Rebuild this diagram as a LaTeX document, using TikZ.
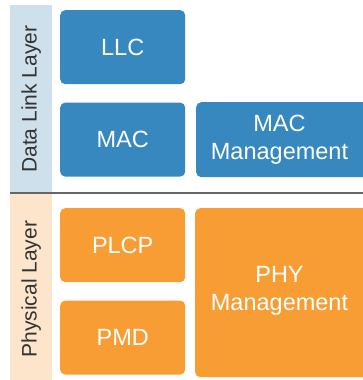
\documentclass[tikz,border=0pt]{standalone}
\usepackage{fontspec}
\setmainfont{Liberation Sans}
\usetikzlibrary{positioning}
\definecolor{dlblue}{HTML}{3688BE}
\definecolor{dlstrip}{HTML}{CDE0EC}
\definecolor{phorange}{HTML}{F89D33}
\definecolor{phstrip}{HTML}{FDE5CC}
\definecolor{labelgray}{HTML}{333333}
\begin{document}
\begin{tikzpicture}[x=1pt,y=-1pt]
    \tikzstyle{layer strip}=[rectangle,inner sep=0,minimum width=42pt,anchor=north west]
    \tikzstyle{layer label}=[rotate=90,text=labelgray,font=\fontsize{21}{24}\selectfont]
    \tikzset{
    blue box/.style={rectangle,rounded corners=5pt,fill=dlblue,text=white,align=center,
        inner sep=0,font=\fontsize{23.5}{28}\selectfont},
    orange box/.style={blue box,fill=phorange},
    small box/.style={minimum width=125pt,minimum height=74pt,anchor=north west}
    }
    \useasboundingbox (0,0) rectangle (363,380);
    % side strips
    \node[layer strip,fill=dlstrip,minimum height=188pt] (dlstrip) at (10,5) {};
    \node[layer strip,fill=phstrip,minimum height=186pt] (phstrip) at (10,194) {};
    \node[layer label] (dllabel) at (dlstrip.center) {Data Link Layer};
    \node[layer label] (phlabel) at ([yshift=-2pt]phstrip.center) {Physical Layer};
    % separator
    \coordinate (sepl) at (10,193);
    \coordinate (sepr) at (363,193);
    \draw[gray!80!black,line width=1.2pt] (sepl) -- (sepr);
    % data link layer
    \node[blue box,small box] (llc) at (60,10) {LLC};
    \node[blue box,small box,below=18pt of llc.south west,anchor=north west] (mac) {MAC};
    \node[blue box,minimum width=177pt,minimum height=75pt,anchor=north west] (macmgmt) at (196,102) {};
    \node[text=white,align=center,font=\fontsize{23.5}{28}\selectfont] (macmgmttext) at (279.5,140) {MAC\\Management};
    % physical layer
    \node[orange box,small box] (plcp) at (60,208) {PLCP};
    \node[orange box,small box,below=18pt of plcp.south west,anchor=north west] (pmd) {PMD};
    \node[orange box,minimum width=178pt,minimum height=169pt,anchor=north west] (phymgmt) at (195,208) {};
    \node[text=white,align=center,font=\fontsize{23.5}{28}\selectfont] (phymgmttext) at (279.5,291) {PHY\\Management};
\end{tikzpicture}
\end{document}
